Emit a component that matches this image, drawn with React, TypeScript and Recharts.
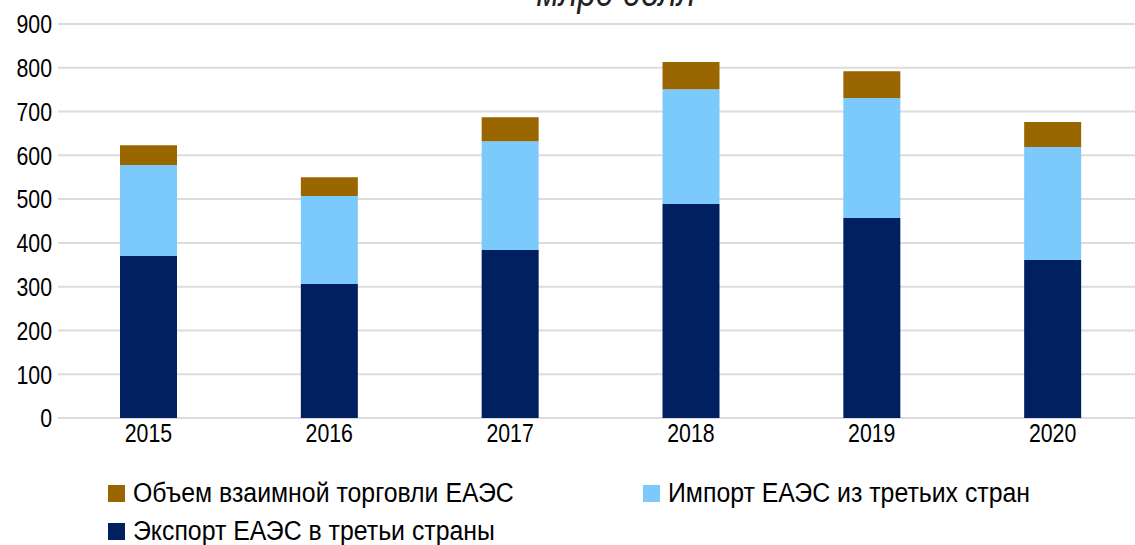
import React from "react";
import { BarChart, Bar, XAxis, YAxis, CartesianGrid } from "recharts";

const years = ["2015", "2016", "2017", "2018", "2019", "2020"];
const exportThird = [370, 306, 384, 489, 457, 361];
const importThird = [208, 201, 248, 262, 274, 258];
const mutualTrade = [45, 43, 55, 62, 61, 57];
const yTicks = [0, 100, 200, 300, 400, 500, 600, 700, 800, 900];

const seriesNames = {
  mutual: "Объем взаимной торговли ЕАЭС",
  imp: "Импорт ЕАЭС из третьих стран",
  exp: "Экспорт ЕАЭС в третьи страны",
};
const colors = { exp: "#002060", imp: "#7CC9FC", mutual: "#996600" };

const data = years.map((y, i) => ({
  year: y,
  exp: exportThird[i],
  imp: importThird[i],
  mutual: mutualTrade[i],
}));

const FONT = "'Liberation Sans', Arial, sans-serif";
const SX = 0.82;
const LSX = 0.92;

const XTick = (props: any) => {
  const { x, y, payload } = props;
  return (
    <text transform={`translate(${x},${y}) scale(${SX},1)`} textAnchor="middle" dy="0.71em" fill="#000" fontSize={26} fontFamily={FONT}>
      {payload.value}
    </text>
  );
};

const YTick = (props: any) => {
  const { x, y, payload } = props;
  return (
    <text transform={`translate(${x},${y}) scale(${SX},1)`} textAnchor="end" dy="0.36em" fill="#000" fontSize={26} fontFamily={FONT}>
      {payload.value}
    </text>
  );
};

export default function App() {
  const legendItems: [keyof typeof colors, number, number][] = [
    ["mutual", 108, 493],
    ["imp", 643, 493],
    ["exp", 108, 531],
  ];
  return (
    <div style={{ position: "absolute", left: 0, top: 0, width: 1135, height: 545, overflow: "hidden", background: "#fff", fontFamily: FONT }}>
      <svg style={{ position: "absolute", left: 0, top: 0 }} width={1135} height={30}>
        <text transform={`translate(616,6) scale(${SX},1)`} textAnchor="middle" fontStyle="italic" fontSize={40} fill="#222" fontFamily={FONT}>
          млрд долл
        </text>
      </svg>
      <BarChart width={1160} height={545} data={data} margin={{ top: 24, right: 17, left: 0, bottom: 97 }} barSize={57}>
        <CartesianGrid vertical={false} stroke="#DCDCDC" strokeWidth={2} />
        <XAxis dataKey="year" height={30} axisLine={false} tickLine={false} tickSize={0} tickMargin={6} tick={<XTick />} />
        <YAxis domain={[0, 900]} ticks={yTicks} axisLine={false} tickLine={false} tickSize={0} tickMargin={6} width={58} tick={<YTick />} />
        <Bar dataKey="exp" stackId="a" fill={colors.exp} isAnimationActive={false} name={seriesNames.exp} />
        <Bar dataKey="imp" stackId="a" fill={colors.imp} isAnimationActive={false} name={seriesNames.imp} />
        <Bar dataKey="mutual" stackId="a" fill={colors.mutual} isAnimationActive={false} name={seriesNames.mutual} />
      </BarChart>
      {legendItems.map(([k, x, cy]) => (
        <div key={k} style={{ position: "absolute", left: x, top: cy - 15, height: 30, display: "flex", alignItems: "center", whiteSpace: "nowrap" }}>
          <span style={{ display: "inline-block", width: 17, height: 17, background: colors[k], marginRight: 8 }} />
          <span style={{ display: "inline-block", fontSize: 27, lineHeight: "30px", color: "#000", fontFamily: FONT, transform: `scaleX(${LSX})`, transformOrigin: "left center" }}>{seriesNames[k]}</span>
        </div>
      ))}
    </div>
  );
}
